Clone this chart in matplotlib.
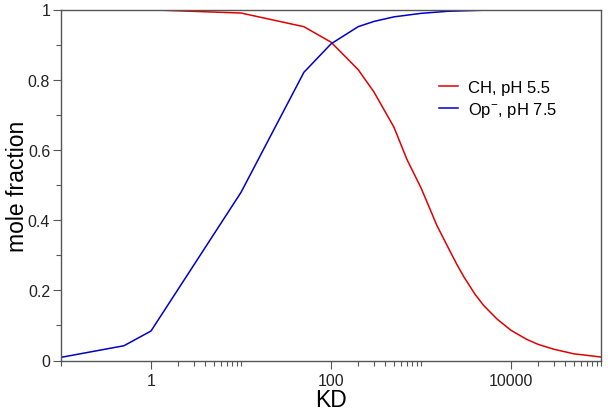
import numpy as np
import matplotlib
matplotlib.use("Agg")
import matplotlib.pyplot as plt
from matplotlib.ticker import FixedLocator, NullFormatter

plt.rcParams['font.family'] = ['Liberation Sans', 'DejaVu Sans']
plt.rcParams['mathtext.fontset'] = 'custom'
plt.rcParams['mathtext.rm'] = 'Liberation Sans'

# Op-, pH 7.5 (blue)
kd_op = [0.1, 0.5, 1, 10, 50, 100, 200, 300, 500, 1000, 2000, 5000, 10000, 100000]
frac_op = [0.009, 0.042, 0.084, 0.479, 0.821, 0.902, 0.951, 0.966, 0.979, 0.989,
           0.995, 0.998, 0.999, 1.0]

# CH, pH 5.5 (red)
kd_ch = [0.1, 0.5, 1, 10, 50, 100, 200, 300, 500, 700, 1000, 1500, 2000, 2500,
         3000, 4000, 5000, 7000, 10000, 15000, 20000, 30000, 50000, 100000]
frac_ch = [1.0, 1.0, 0.999, 0.990, 0.951, 0.907, 0.829, 0.765, 0.665, 0.572,
           0.492, 0.385, 0.322, 0.274, 0.238, 0.188, 0.156, 0.118, 0.086, 0.060,
           0.046, 0.032, 0.019, 0.010]

x_major = [1, 100, 10000]
x_labels = ['1', '100', '10000']
y_major = [0, 0.2, 0.4, 0.6, 0.8, 1.0]
y_labels = ['0', '0.2', '0.4', '0.6', '0.8', '1']

fig = plt.figure(figsize=(6.08, 4.14), dpi=100)
ax = fig.add_axes([61 / 608, 1 - 361.5 / 414, 540 / 608, 351 / 414])

ax.plot(kd_ch, frac_ch, color='#e00000', lw=1.1, label='CH, pH 5.5')
ax.plot(kd_op, frac_op, color='#0000c8', lw=1.1, label='Op$^{-}$, pH 7.5')

ax.set_xscale('log')
ax.set_xlim(0.1, 100000)
ax.set_ylim(0, 1)

ax.xaxis.set_major_locator(FixedLocator(x_major))
ax.set_xticklabels(x_labels)
minors = [k * 10.0 ** d for d in (-2, 0, 2, 4) for k in range(2, 11)]
ax.xaxis.set_minor_locator(FixedLocator([m for m in minors if 0.1 <= m <= 100000]))
ax.xaxis.set_minor_formatter(NullFormatter())

ax.set_yticks(y_major)
ax.set_yticklabels(y_labels)
ax.yaxis.set_minor_locator(FixedLocator([0.1, 0.3, 0.5, 0.7, 0.9]))

spine_col = '#555555'
for s in ax.spines.values():
    s.set_color(spine_col)
    s.set_linewidth(1.0)
ax.tick_params(which='major', length=5.8, width=0.8, color=spine_col,
               labelsize=11.5, labelcolor='#222222')
ax.tick_params(axis='x', which='major', pad=3)
ax.tick_params(axis='y', which='major', pad=2)
ax.tick_params(which='minor', length=3.6, width=0.8, color=spine_col)
ax.tick_params(top=False, right=False, which='both')

ax.set_xlabel('KD', fontsize=16.5, va='center')
ax.xaxis.set_label_coords(0.5, (361.5 - 400.5) / 351)
ax.set_ylabel('mole fraction', fontsize=16.5, va='center')
ax.yaxis.set_label_coords((17 - 61) / 540, 0.5)

ax.legend(loc='center left', bbox_to_anchor=(0.70, 0.745), frameon=False,
          fontsize=12, handlelength=1.15, handletextpad=0.6, labelspacing=0.3,
          borderpad=0, borderaxespad=0)

fig.savefig('out.png', dpi=100)
